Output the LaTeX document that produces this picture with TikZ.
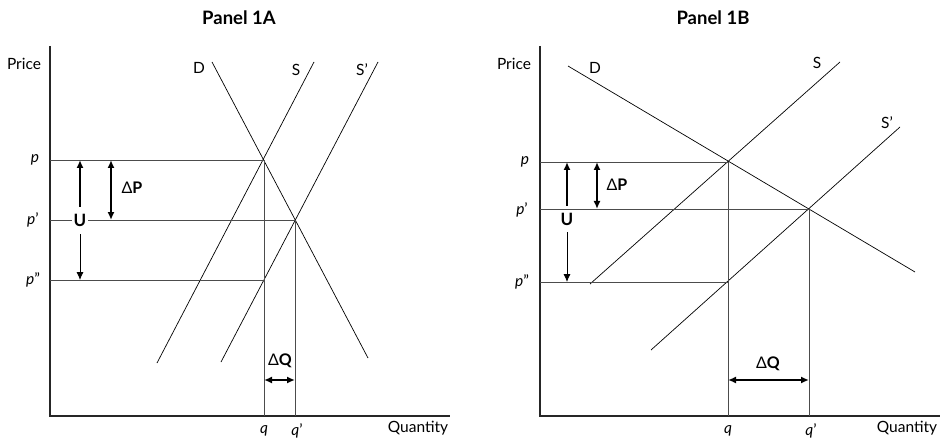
\documentclass[tikz,border=0pt]{standalone}
\usepackage{fontspec}
\setmainfont{Lato}
\usetikzlibrary{arrows.meta}
\begin{document}
\begin{tikzpicture}[x=1pt,y=-1pt,
  axis/.style={line width=1.2pt,black!85},
  guide/.style={line width=0.7pt,black!70},
  curve/.style={line width=0.7pt,black},
  tip/.tip={Latex[length=8pt,width=7pt]},
  thickarr/.style={line width=1.9pt,black},
  thinarr/.style={line width=0.8pt,black},
  lbl/.style={font=\fontsize{15.5}{18}\selectfont,inner sep=1pt},
  dlbl/.style={font=\fontsize{16}{18}\selectfont,inner sep=1pt},
  ttl/.style={font=\bfseries\fontsize{18.5}{20}\selectfont},
  ulbl/.style={font=\bfseries\fontsize{17}{18}\selectfont,fill=white,inner sep=2pt}]
\useasboundingbox (0,0) rectangle (943,441);
% ================= Panel 1A =================
\node[ttl] (tA) at (239,18) {Panel 1A};
\coordinate (oA) at (50,416);
\coordinate (yA) at (50,46);
\coordinate (xA) at (450,416);
\draw[axis] (yA) -- (oA) -- (xA);
\node[lbl] (priceA) at (24,64) {Price};
\node[lbl] (quantA) at (418,428) {Quantity};
% equilibria
\coordinate (e1A) at (264,160);
\coordinate (e2A) at (295,220);
\coordinate (e3A) at (264,280);
\coordinate (pA) at (50,160);
\coordinate (ppA) at (50,220);
\coordinate (pppA) at (50,280);
\coordinate (qA) at (264,416);
\coordinate (qqA) at (295,416);
% curves
\draw[curve] (212,62) -- (368,358);
\draw[curve] (157,363) -- (314,62);
\draw[curve] (221,362) -- (378,62);
\node[lbl] (DA) at (199,68) {D};
\node[lbl] (SA) at (296,70) {S};
\node[lbl] (SpA) at (362,70) {S’};
% guides
\draw[guide] (pA) -- (e1A);
\draw[guide] (ppA) -- (e2A);
\draw[guide] (pppA) -- (e3A);
\draw[guide] (e1A) -- (qA);
\draw[guide] (e2A) -- (qqA);
% price labels
\node[lbl] (lpA) at (35,160) {\textit{p}};
\node[lbl] (lppA) at (33,220) {\textit{p}’};
\node[lbl] (lpppA) at (33,280) {\textit{p}”};
\node[lbl] (lqA) at (264,431) {\textit{q}};
\node[lbl] (lqqA) at (297,431) {\textit{q}’};
% U arrows
\node[ulbl] (UA) at (80,220) {U};
\coordinate (UtopA) at (80,160);
\coordinate (UbotA) at (80,280);
\draw[thickarr,-{tip}] (80,207) -- (UtopA);
\draw[thinarr,-{tip}] (80,234) -- (UbotA);
% Delta P
\coordinate (dPtA) at (111,160);
\coordinate (dPbA) at (111,220);
\draw[thickarr,{tip}-{tip}] (dPtA) -- (dPbA);
\node[dlbl] (dPA) at (132,188) {Δ\textbf{P}};
% Delta Q
\coordinate (dQlA) at (264,380);
\coordinate (dQrA) at (295,380);
\draw[thickarr,{tip}-{tip}] (dQlA) -- (dQrA);
\node[dlbl] (dQA) at (280,361) {Δ\textbf{Q}};
% ================= Panel 1B =================
\node[ttl] (tB) at (713,18) {Panel 1B};
\coordinate (oB) at (540,416);
\coordinate (yB) at (540,46);
\coordinate (xB) at (940,416);
\draw[axis] (yB) -- (oB) -- (xB);
\node[lbl] (priceB) at (514,64) {Price};
\node[lbl] (quantB) at (907,428) {Quantity};
\coordinate (e1B) at (728,162);
\coordinate (e2B) at (809,209);
\coordinate (e3B) at (728,282);
\coordinate (pB) at (540,162);
\coordinate (ppB) at (540,209);
\coordinate (pppB) at (540,282);
\coordinate (qB) at (728,416);
\coordinate (qqB) at (809,416);
\draw[curve] (568,66) -- (915,272);
\draw[curve] (590,284) -- (840,62);
\draw[curve] (651,350) -- (900,127);
\node[lbl] (DB) at (595,68) {D};
\node[lbl] (SB) at (817,63) {S};
\node[lbl] (SpB) at (887,123) {S’};
\draw[guide] (pB) -- (e1B);
\draw[guide] (ppB) -- (e2B);
\draw[guide] (pppB) -- (e3B);
\draw[guide] (e1B) -- (qB);
\draw[guide] (e2B) -- (qqB);
\node[lbl] (lpB) at (525,162) {\textit{p}};
\node[lbl] (lppB) at (522,210) {\textit{p}’};
\node[lbl] (lpppB) at (522,282) {\textit{p}”};
\node[lbl] (lqB) at (728,431) {\textit{q}};
\node[lbl] (lqqB) at (811,431) {\textit{q}’};
\node[ulbl] (UB) at (567,219) {U};
\coordinate (UtopB) at (567,162);
\coordinate (UbotB) at (567,282);
\draw[thickarr,-{tip}] (567,206) -- (UtopB);
\draw[thinarr,-{tip}] (567,232) -- (UbotB);
\coordinate (dPtB) at (597,162);
\coordinate (dPbB) at (597,209);
\draw[thickarr,{tip}-{tip}] (dPtB) -- (dPbB);
\node[dlbl] (dPB) at (617,185) {Δ\textbf{P}};
\coordinate (dQlB) at (728,380);
\coordinate (dQrB) at (809,380);
\draw[thickarr,{tip}-{tip}] (dQlB) -- (dQrB);
\node[dlbl] (dQB) at (768,364) {Δ\textbf{Q}};
\end{tikzpicture}
\end{document}
